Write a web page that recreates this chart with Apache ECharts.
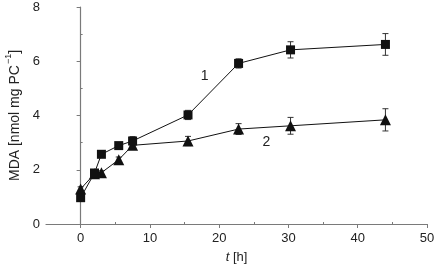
<!DOCTYPE html>
<html>
<head>
<meta charset="utf-8">
<script src="https://cdn.jsdelivr.net/npm/echarts@6/dist/echarts.min.js"></script>
<style>
  html, body { margin: 0; padding: 0; background: #fff; }
  #chart { width: 434px; height: 267px; }
</style>
</head>
<body>
<div id="chart"></div>
<script>
// time points [h]
const times = [0, 2, 3, 5.5, 7.5, 15.5, 22.8, 30.3, 44];
// curve 1 (squares)
const mda1 = [0.97, 1.88, 2.57, 2.89, 3.06, 4.02, 5.92, 6.42, 6.62];
const err1 = [0.05, 0.08, 0.06, 0.07, 0.16, 0.17, 0.17, 0.3, 0.4];
// curve 2 (triangles)
const mda2 = [1.29, 1.85, 1.89, 2.37, 2.9, 3.06, 3.5, 3.62, 3.84];
const err2 = [0.08, 0.1, 0.07, 0.1, 0.15, 0.17, 0.2, 0.31, 0.41];

const xMajor = [0, 10, 20, 30, 40, 50];
const xMinor = [5, 15, 25, 35, 45];
const yMinor = [1, 3, 5, 7];

const axisGrey = '#7a7a7a';
const textColor = '#222';
const fontFamily = 'Liberation Sans, Arial, sans-serif';

const chart = echarts.init(document.getElementById('chart'));

const pts = (ys) => times.map((t, i) => [t, ys[i]]);
const bars = (ys, es) => times.map((t, i) => [t, ys[i] - es[i], ys[i] + es[i]]);

function renderErr(params, api) {
  const x = api.value(0);
  const lo = api.coord([x, api.value(1)]);
  const hi = api.coord([x, api.value(2)]);
  const w = 3;
  const style = { stroke: '#333', lineWidth: 1 };
  return {
    type: 'group',
    children: [
      { type: 'line', shape: { x1: lo[0], y1: lo[1], x2: hi[0], y2: hi[1] }, style },
      { type: 'line', shape: { x1: lo[0] - w, y1: lo[1], x2: lo[0] + w, y2: lo[1] }, style },
      { type: 'line', shape: { x1: hi[0] - w, y1: hi[1], x2: hi[0] + w, y2: hi[1] }, style }
    ]
  };
}

const option = {
  animation: false,
  backgroundColor: '#fff',
  textStyle: { fontFamily },
  grid: { left: 46, right: 7, top: 7, bottom: 43, outerBoundsMode: 'none' },
  xAxis: [
    {
      type: 'value', min: -5, max: 50,
      name: '{i|t} [h]', nameLocation: 'middle', nameGap: 27,
      nameTextStyle: { color: textColor, fontSize: 13, rich: { i: { fontStyle: 'italic', fontSize: 13, color: textColor } } },
      axisLine: { lineStyle: { color: axisGrey, width: 1.2 } },
      axisTick: { show: true, length: 4, customValues: xMajor, lineStyle: { color: axisGrey } },
      axisLabel: { customValues: xMajor, color: textColor, fontSize: 13, margin: 8 },
      splitLine: { show: false }
    },
    {
      type: 'value', min: -5, max: 50, position: 'bottom',
      axisLine: { show: false },
      axisTick: { show: true, inside: true, length: 2, customValues: xMinor, lineStyle: { color: axisGrey } },
      axisLabel: { show: false },
      splitLine: { show: false }
    }
  ],
  yAxis: [
    {
      type: 'value', min: 0, max: 8, interval: 2,
      name: '{a|MDA [nmol mg PC}{s|−1}{a|]}', nameLocation: 'middle', nameGap: 22,
      nameTextStyle: {
        color: textColor, fontSize: 14,
        rich: {
          a: { fontSize: 14, color: textColor, lineHeight: 18, verticalAlign: 'bottom' },
          s: { fontSize: 9, color: textColor, lineHeight: 18, verticalAlign: 'top', padding: [0, 0, 0, 1] }
        }
      },
      axisLine: { show: true, lineStyle: { color: axisGrey, width: 1.2 } },
      axisTick: { show: true, length: 4, lineStyle: { color: axisGrey } },
      axisLabel: { color: textColor, fontSize: 13, margin: 6 },
      splitLine: { show: false }
    },
    {
      type: 'value', min: 0, max: 8, position: 'left',
      axisLine: { show: false },
      axisTick: { show: true, inside: true, length: 2, customValues: yMinor, lineStyle: { color: axisGrey } },
      axisLabel: { show: false },
      splitLine: { show: false }
    }
  ],
  series: [
    {
      type: 'custom', renderItem: renderErr, data: bars(mda1, err1), z: 1
    },
    {
      type: 'custom', renderItem: renderErr, data: bars(mda2, err2), z: 1
    },
    {
      name: '1', type: 'line', data: pts(mda1), z: 3,
      symbol: 'rect', symbolSize: 9,
      lineStyle: { color: '#111', width: 1 },
      itemStyle: { color: '#111' },
      markPoint: {
        symbol: 'circle', symbolSize: 0,
        label: { show: true, formatter: '1', color: textColor, fontSize: 14, fontFamily },
        data: [{ coord: [17.9, 5.45] }]
      }
    },
    {
      name: '2', type: 'line', data: pts(mda2), z: 2,
      symbol: 'triangle', symbolSize: 11,
      lineStyle: { color: '#111', width: 1 },
      itemStyle: { color: '#111' },
      markPoint: {
        symbol: 'circle', symbolSize: 0,
        label: { show: true, formatter: '2', color: textColor, fontSize: 14, fontFamily },
        data: [{ coord: [26.8, 3.03] }]
      }
    }
  ]
};

chart.setOption(option);
</script>
</body>
</html>
